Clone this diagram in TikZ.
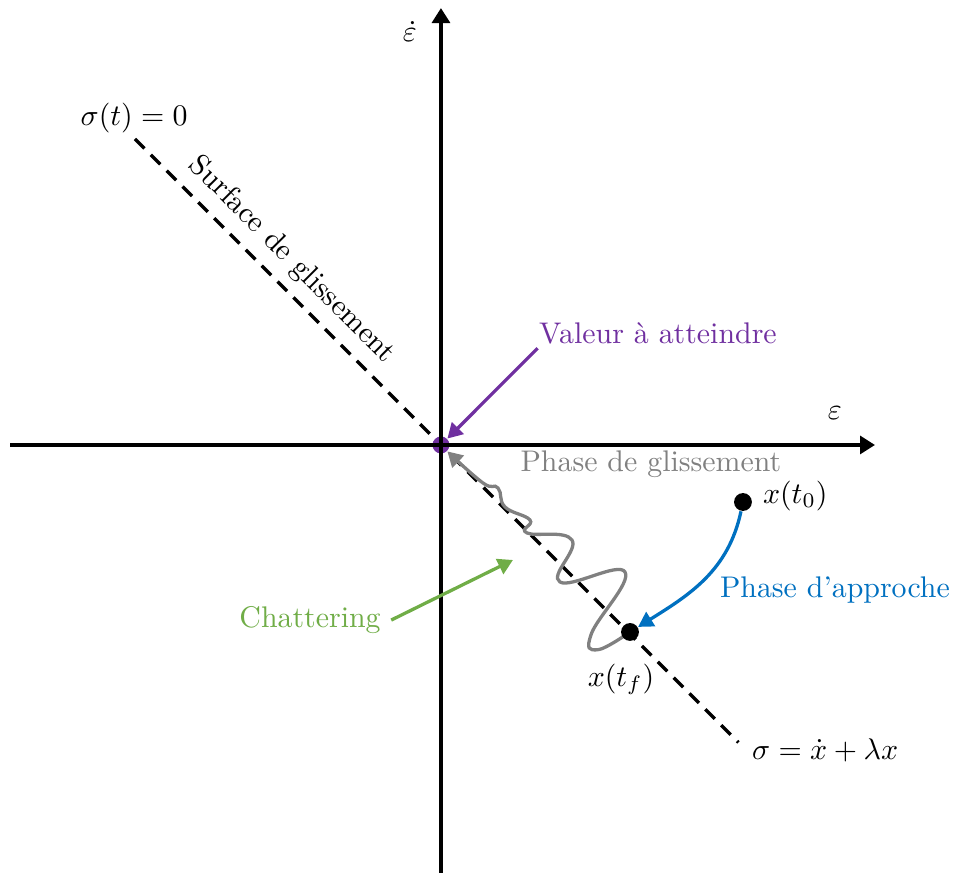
\documentclass[tikz,border=0pt]{standalone}
\usepackage{amsmath,amssymb}
\usepackage{tikz}
\usetikzlibrary{arrows.meta,positioning,calc}
\definecolor{targetPurple}{HTML}{7030A0}
\definecolor{chatGreen}{HTML}{70AD47}
\definecolor{approachBlue}{HTML}{0070C0}
\definecolor{slideGray}{HTML}{808080}

\begin{document}
\begin{tikzpicture}[
  axis/.style={-{Triangle[length=5pt,width=6pt]}, line width=1.1pt},
  surf/.style={dash pattern=on 4.5pt off 3pt, line width=1.1pt},
  dot/.style={circle, fill=black, inner sep=0pt, minimum size=2.1mm},
  arrow/.style={-{Triangle[length=5pt,width=5.5pt]}, line width=1.1pt}
]
\useasboundingbox (-5.188,-5.035) rectangle (6.024,5.235);
\coordinate (surfTop) at (-3.6,3.6);
\coordinate (surfBot) at (3.5,-3.5);
\draw[surf] (surfTop) -- node[pos=0.23, sloped, above] (surfLbl) {Surface de glissement} (surfBot);
\node[circle, fill=targetPurple, inner sep=0pt, minimum size=2mm] (target) at (0,0) {};
\draw[axis] (-5.07,0) -- (5.106,0);
\draw[axis] (0,-5.035) -- (0,5.14);
\node (epsLbl) at (4.635,0.376) {$\varepsilon$};
\node (epsDotLbl) at (-0.365,4.86) {$\dot{\varepsilon}$};
\node (surfTopLbl) at (-3.61,3.85) {$\sigma(t) = 0$};
\node (surfBotLbl) at (4.52,-3.59) {$\sigma = \dot{x} + \lambda x$};
\node[text=targetPurple] (valeur) at (2.553,1.318) {Valeur à atteindre};
\draw[arrow, targetPurple] ([xshift=3pt,yshift=2pt]valeur.south west) -- (target);
\node[text=slideGray] (slideLbl) at (2.47,-0.224) {Phase de glissement};
\coordinate (xtfPt) at (2.224,-2.2);
\draw[arrow, slideGray] plot[smooth, tension=0.75] coordinates {(xtfPt) (1.84,-2.41) (1.77,-2.22) (2.165,-1.494) (1.4,-1.612) (1.541,-1.118) (1.012,-1.035) (1.047,-0.882) (0.753,-0.729) (0.671,-0.506) (0.494,-0.447) (target.south east)};
\node[dot] (xtf) at (xtfPt) {};
\node[below=4pt of xtf, xshift=-3pt] (xtfLbl) {$x(t_f)$};
\node[dot] (xt0) at (3.553,-0.671) {};
\node[right=0pt of xt0, yshift=2pt] (xt0Lbl) {$x(t_0)$};
\draw[arrow, approachBlue] (xt0) to[out=-102, in=32] (xtf);
\node[text=approachBlue] (approchLbl) at (4.635,-1.706) {Phase d'approche};
\node[text=chatGreen] (chatLbl) at (-1.54,-2.06) {Chattering};
\coordinate (chatTip) at (0.847,-1.353);
\draw[arrow, chatGreen] (chatLbl.east) -- (chatTip);
\end{tikzpicture}
\end{document}
